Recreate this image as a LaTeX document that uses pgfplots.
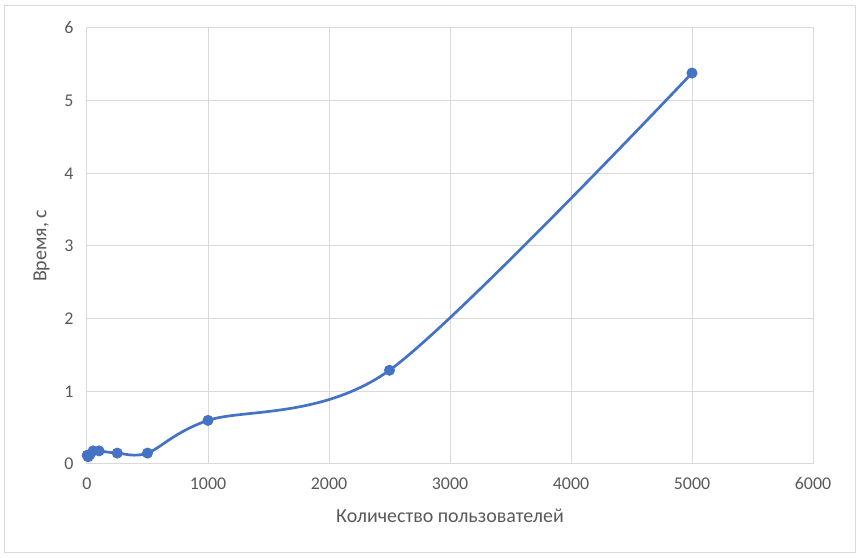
\documentclass[border=0pt]{standalone}
\usepackage{pgfplots}
\pgfplotsset{compat=1.18}
\usepackage{fontspec}
\setmainfont{Carlito}
\definecolor{excelblue}{HTML}{4472C4}
\definecolor{gridgray}{HTML}{D9D9D9}
\definecolor{labelgray}{HTML}{595959}

\begin{document}
\begin{tikzpicture}[x=1bp,y=1bp]
% outer chart frame
\path (-87,-94) rectangle (772,464);
\draw[gridgray, line width=1bp] (-82,-89) rectangle (768,458);
\begin{axis}[
    at={(0,0)}, anchor=south west,
    scale only axis,
    width=726bp, height=436bp,
    xmin=0, xmax=6000, ymin=0, ymax=6,
    xtick={0,1000,...,6000},
    ytick={0,1,...,6},
    grid=major,
    major grid style={gridgray, line width=1bp},
    axis line style={gridgray, line width=1bp},
    tick style={draw=none},
    scaled x ticks=false,
    /pgf/number format/assume math mode=true,
    /pgf/number format/set thousands separator={},
    ticklabel style={font=\fontsize{18}{20}\selectfont, text=labelgray},
    xticklabel style={yshift=-10bp},
    yticklabel style={xshift=-10bp},
    label style={font=\fontsize{20}{22}\selectfont, text=labelgray},
    xlabel={Количество пользователей},
    ylabel={Время, с},
    xlabel style={yshift=-12bp},
    ylabel style={yshift=8bp},
]
\addplot[excelblue, line width=2.7bp, smooth, tension=0.5,
    mark=*, mark size=5bp, mark options={fill=excelblue, draw=excelblue, line width=1bp}]
    coordinates {
    (1,0.12) (10,0.10) (25,0.13) (50,0.18) (100,0.18)
    (250,0.15) (500,0.15) (1000,0.60) (2500,1.29) (5000,5.38)
    };
\end{axis}
\end{tikzpicture}
\end{document}
